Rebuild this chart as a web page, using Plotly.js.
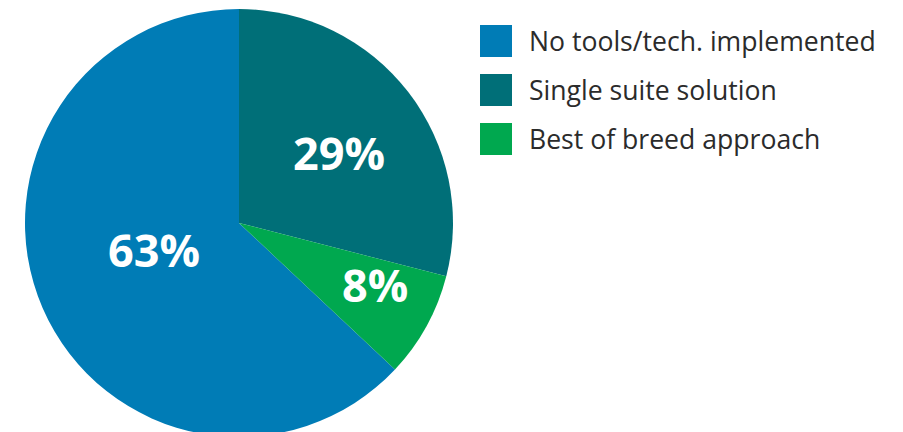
<!DOCTYPE html>
<html>
<head>
<meta charset="utf-8">
<script src="https://cdn.plot.ly/plotly-3.0.1.min.js"></script>
<style>
html, body { margin: 0; padding: 0; overflow: hidden; background: #fff; }
#chart { width: 903px; height: 440px; }
</style>
</head>
<body>
<div id="chart"></div>
<script>
// Data
var categories = ["No tools/tech. implemented", "Single suite solution", "Best of breed approach"];
var shares = [63, 29, 8];
var sliceColors = ["#007cb6", "#006f78", "#00a84f"];
// label placement (fraction of radius, angle nudge in degrees) - styling only
var labelRadius = [0.419, 0.563, 0.704];
var labelAngleNudge = [4, 3.7, -3.3];

var W = 903, H = 440;
function px(x) { return x / W; }
function py(y) { return 1 - y / H; }

// pie geometry in pixels
var cx = 239, cy = 223, R = 214;
var total = shares.reduce(function (a, b) { return a + b; }, 0);
// first slice ends at 12 o'clock, others follow clockwise
var rotation = 360 - 360 * shares[0] / total;

var trace = {
  type: "pie",
  labels: categories,
  values: shares,
  sort: false,
  direction: "clockwise",
  rotation: rotation,
  marker: { colors: sliceColors, line: { width: 0 } },
  textinfo: "none",
  hoverinfo: "none",
  showlegend: false,
  domain: { x: [px(cx - R), px(cx + R)], y: [py(cy + R), py(cy - R)] }
};

var shapes = [], annotations = [];
var boxTop = [25, 74, 123];
var cum = 0;
for (var i = 0; i < categories.length; i++) {
  // legend
  shapes.push({
    type: "rect", xref: "paper", yref: "paper",
    x0: px(480), x1: px(512), y0: py(boxTop[i] + 32), y1: py(boxTop[i]),
    fillcolor: sliceColors[i], line: { width: 0 }
  });
  annotations.push({
    xref: "paper", yref: "paper", x: px(527), y: py(boxTop[i] + 16),
    xanchor: "left", yanchor: "middle", showarrow: false,
    text: categories[i],
    font: { family: "Open Sans", size: 26.6, color: "#2b2b2b" }
  });
  // slice percentage labels
  var midDeg = rotation + (cum + shares[i] / 2) * 360 / total + labelAngleNudge[i];
  var mid = midDeg * Math.PI / 180;
  cum += shares[i];
  var r = labelRadius[i] * R;
  annotations.push({
    xref: "paper", yref: "paper",
    x: px(cx + r * Math.sin(mid)), y: py(cy - r * Math.cos(mid)),
    xanchor: "center", yanchor: "middle", showarrow: false, yshift: 3,
    text: shares[i] + "%",
    font: { family: "Open Sans", size: 45, color: "#ffffff", weight: "bold" }
  });
}

var layout = {
  width: W, height: H,
  margin: { l: 0, r: 0, t: 0, b: 0 },
  paper_bgcolor: "#ffffff",
  showlegend: false,
  shapes: shapes,
  annotations: annotations
};

Plotly.newPlot("chart", [trace], layout, { staticPlot: true, displayModeBar: false });
</script>
</body>
</html>
